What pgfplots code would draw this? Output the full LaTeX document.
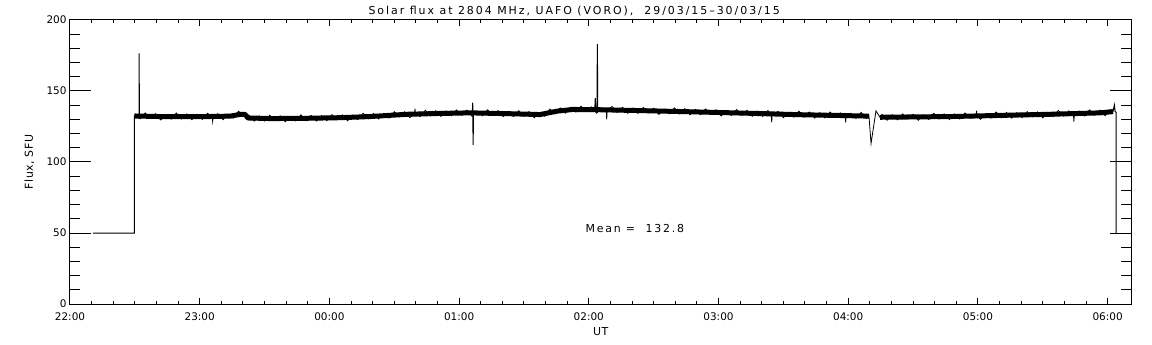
\documentclass[border=0pt]{standalone}
\usepackage{pgfplots}
\pgfplotsset{compat=1.18}
\usepackage{fontspec}
\setmainfont{DejaVu Sans}
\newfontfamily\widefont[LetterSpace=16]{DejaVu Sans}
\newfontfamily\titlefont[LetterSpace=18]{DejaVu Sans}
\newfontfamily\labfont[LetterSpace=4]{DejaVu Sans}
\begin{document}
\begin{tikzpicture}
\useasboundingbox (-70bp,-41bp) rectangle (1082bp,304bp);
\begin{axis}[
  at={(0,0)}, anchor=south west,
  scale only axis, width=1061.5bp, height=284bp,
  xmin=0, xmax=8.184, ymin=0, ymax=200,
  xtick={0,1,2,3,4,5,6,7,8},
  xticklabels={22:00,23:00,00:00,01:00,02:00,03:00,04:00,05:00,06:00},
  minor x tick num=5,
  ytick={0,50,100,150,200},
  minor y tick num=4,
  tick align=inside,
  axis line style={line width=1bp},
  every tick/.append style={line width=1bp, black},
  xtick style={/pgfplots/major tick length=5.7bp,/pgfplots/minor tick length=2.8bp},
  ytick style={/pgfplots/major tick length=21bp,/pgfplots/minor tick length=10.5bp},
  tick label style={font=\fontsize{10.5}{12}\selectfont},
  /pgf/number format/assume math mode=true,
  xticklabel style={anchor=base, yshift=-16bp},
  xlabel={UT},
  xlabel style={at={(axis description cs:0.5,-0.1092)}, anchor=base, font=\fontsize{11}{13}\labfont},
  ylabel={Flux, SFU},
  ylabel style={at={(axis description cs:-0.0349,0.5)}, anchor=base, font=\fontsize{11}{13}\labfont},
  no markers,
  clip=false,
]
% thick core of the noisy trace
\addplot[black, line width=5bp, line join=round] coordinates {
(0.497,132.4)(0.694,132.0)(1.002,131.9)(1.234,132.3)(1.311,133.5)(1.349,133.6)(1.372,131.0)
(1.542,130.6)(1.773,130.7)(2.082,131.2)(2.313,132.0)(2.598,133.6)(2.853,134.2)(3.084,134.6)
(3.392,134.0)(3.624,133.4)(3.755,135.8)(3.878,137.0)(4.086,136.8)(4.395,136.2)(4.857,135.2)
(5.243,134.3)(5.628,133.3)(6.014,132.6)(6.160,132.3)
};
\addplot[black, line width=5bp, line join=round] coordinates {
(6.245,131.5)(6.785,132.0)(7.170,132.8)(7.556,133.6)(7.941,134.6)(8.042,135.5)
};
% noise envelope
\addplot[black, line width=0.8bp] coordinates {
(0.50,134.1)(0.54,130.4)(0.58,134.5)(0.62,130.7)(0.66,134.0)(0.70,129.6)(0.74,133.4)(0.78,130.2)
(0.82,134.5)(0.86,130.3)(0.90,133.9)(0.94,129.8)(0.98,133.6)(1.02,130.0)(1.06,134.3)
(1.096,132.1)(1.100,128.5)(1.104,132.1)
(1.14,134.0)(1.18,129.8)(1.22,133.7)(1.26,130.9)(1.30,135.8)(1.34,132.0)(1.38,133.0)(1.42,128.8)
(1.46,132.5)(1.50,128.8)(1.54,132.9)(1.58,129.1)(1.62,132.5)(1.66,128.3)(1.70,132.1)(1.74,128.9)
(1.78,133.2)(1.82,129.2)(1.86,132.8)(1.90,128.8)(1.94,132.7)(1.98,129.1)(2.02,133.4)(2.06,129.7)
(2.10,133.2)(2.14,129.0)(2.18,133.0)(2.22,129.9)(2.26,134.3)(2.30,130.4)(2.34,134.2)(2.38,130.3)
(2.42,134.3)(2.46,130.9)(2.50,135.4)(2.54,131.8)(2.58,135.4)(2.62,131.3)
(2.656,133.8)(2.660,137.5)(2.664,133.8)(2.70,132.0)
(2.74,136.4)(2.78,132.4)(2.82,136.1)(2.86,132.1)(2.90,136.0)(2.94,132.5)(2.98,136.7)(3.02,133.0)
(3.06,136.5)(3.10,132.2)(3.14,135.9)(3.18,132.6)(3.22,136.8)(3.26,132.7)(3.30,136.2)(3.34,132.0)
(3.38,135.7)(3.42,132.0)(3.46,136.1)(3.50,132.2)(3.54,135.5)(3.58,131.1)(3.62,134.8)(3.66,132.2)
(3.70,137.3)(3.74,133.9)(3.78,138.1)(3.82,134.4)(3.86,138.6)(3.90,135.1)(3.94,139.3)(3.98,135.4)
(4.02,138.8)(4.06,134.4)(4.10,138.2)(4.134,136.7)(4.138,130.0)(4.142,136.7)
(4.18,139.1)(4.22,134.9)(4.26,138.5)(4.30,134.3)
(4.34,138.0)(4.38,134.3)(4.42,138.4)(4.46,134.6)(4.50,137.9)(4.54,133.5)(4.58,137.2)(4.62,133.9)
(4.66,138.1)(4.70,133.9)(4.74,137.5)(4.78,133.3)(4.82,137.0)(4.86,133.3)(4.90,137.4)(4.94,133.5)
(4.98,136.8)(5.02,132.4)(5.06,136.1)(5.10,132.8)(5.14,137.0)(5.18,132.9)(5.22,136.4)(5.26,132.2)
(5.30,135.9)(5.34,132.1)(5.38,136.2)(5.406,133.8)(5.410,128.0)(5.414,133.8)
(5.46,135.6)(5.50,131.2)(5.54,134.9)(5.58,131.6)
(5.62,135.8)(5.66,131.6)(5.70,135.2)(5.74,131.0)(5.78,134.7)(5.82,131.0)(5.86,135.2)(5.90,131.3)
(5.94,134.6)(5.976,132.7)(5.980,128.0)(5.984,132.7)(6.02,134.0)(6.06,130.7)(6.10,134.9)(6.14,130.7)
(6.160,132.3)(6.176,113.0)(6.214,136.0)(6.245,131.5)
(6.26,133.5)(6.30,129.4)(6.34,133.3)(6.38,129.7)(6.42,133.9)(6.46,130.2)(6.50,133.6)(6.54,129.3)
(6.58,133.2)(6.62,130.0)(6.66,134.3)(6.70,130.3)(6.74,133.9)(6.78,129.9)(6.82,133.8)(6.86,130.3)
(6.90,134.5)(6.94,130.8)(6.986,132.4)(6.990,136.2)(6.994,132.4)(7.02,130.1)(7.06,134.0)(7.10,130.9)(7.14,135.2)(7.18,131.2)
(7.22,134.9)(7.26,130.9)(7.30,134.8)(7.34,131.2)(7.38,135.5)(7.42,131.8)(7.46,135.3)(7.50,131.1)
(7.54,135.0)(7.58,131.9)(7.62,136.3)(7.66,132.3)(7.70,136.0)(7.736,134.1)(7.740,128.4)(7.744,134.1)
(7.78,135.9)(7.82,132.4)
(7.86,136.7)(7.90,133.0)(7.94,136.5)(7.98,132.6)(8.02,136.7)(8.042,135.5)
};
% steps and spikes
\addplot[black, line width=1bp] coordinates {
(0.177,50)(0.497,50)(0.497,132.4)(0.532,132.3)(0.532,176.5)(0.536,132.3)
};
\addplot[black, line width=1bp] coordinates {
(3.102,134.5)(3.105,141.8)(3.108,112.0)(3.111,134.5)
};
\addplot[black, line width=1bp] coordinates {
(4.046,137.0)(4.050,145.0)(4.054,137.0)(4.063,137.0)(4.066,183.0)(4.069,137.0)
};
\addplot[black, line width=1bp] coordinates {
(8.042,135.5)(8.052,140.1)(8.058,135.5)(8.065,135.0)(8.065,50)
};
\node[anchor=base west, font=\fontsize{11}{13}\widefont] at (axis cs:3.948,50) {Mean =\ \ 132.8};
\node[anchor=base, font=\fontsize{11}{13}\titlefont] at (axis description cs:0.475,1.0211)
  {Solar flux at 2804 MHz, UAFO (VORO),\ \ 29/03/15\textendash 30/03/15};
\end{axis}
\end{tikzpicture}
\end{document}
